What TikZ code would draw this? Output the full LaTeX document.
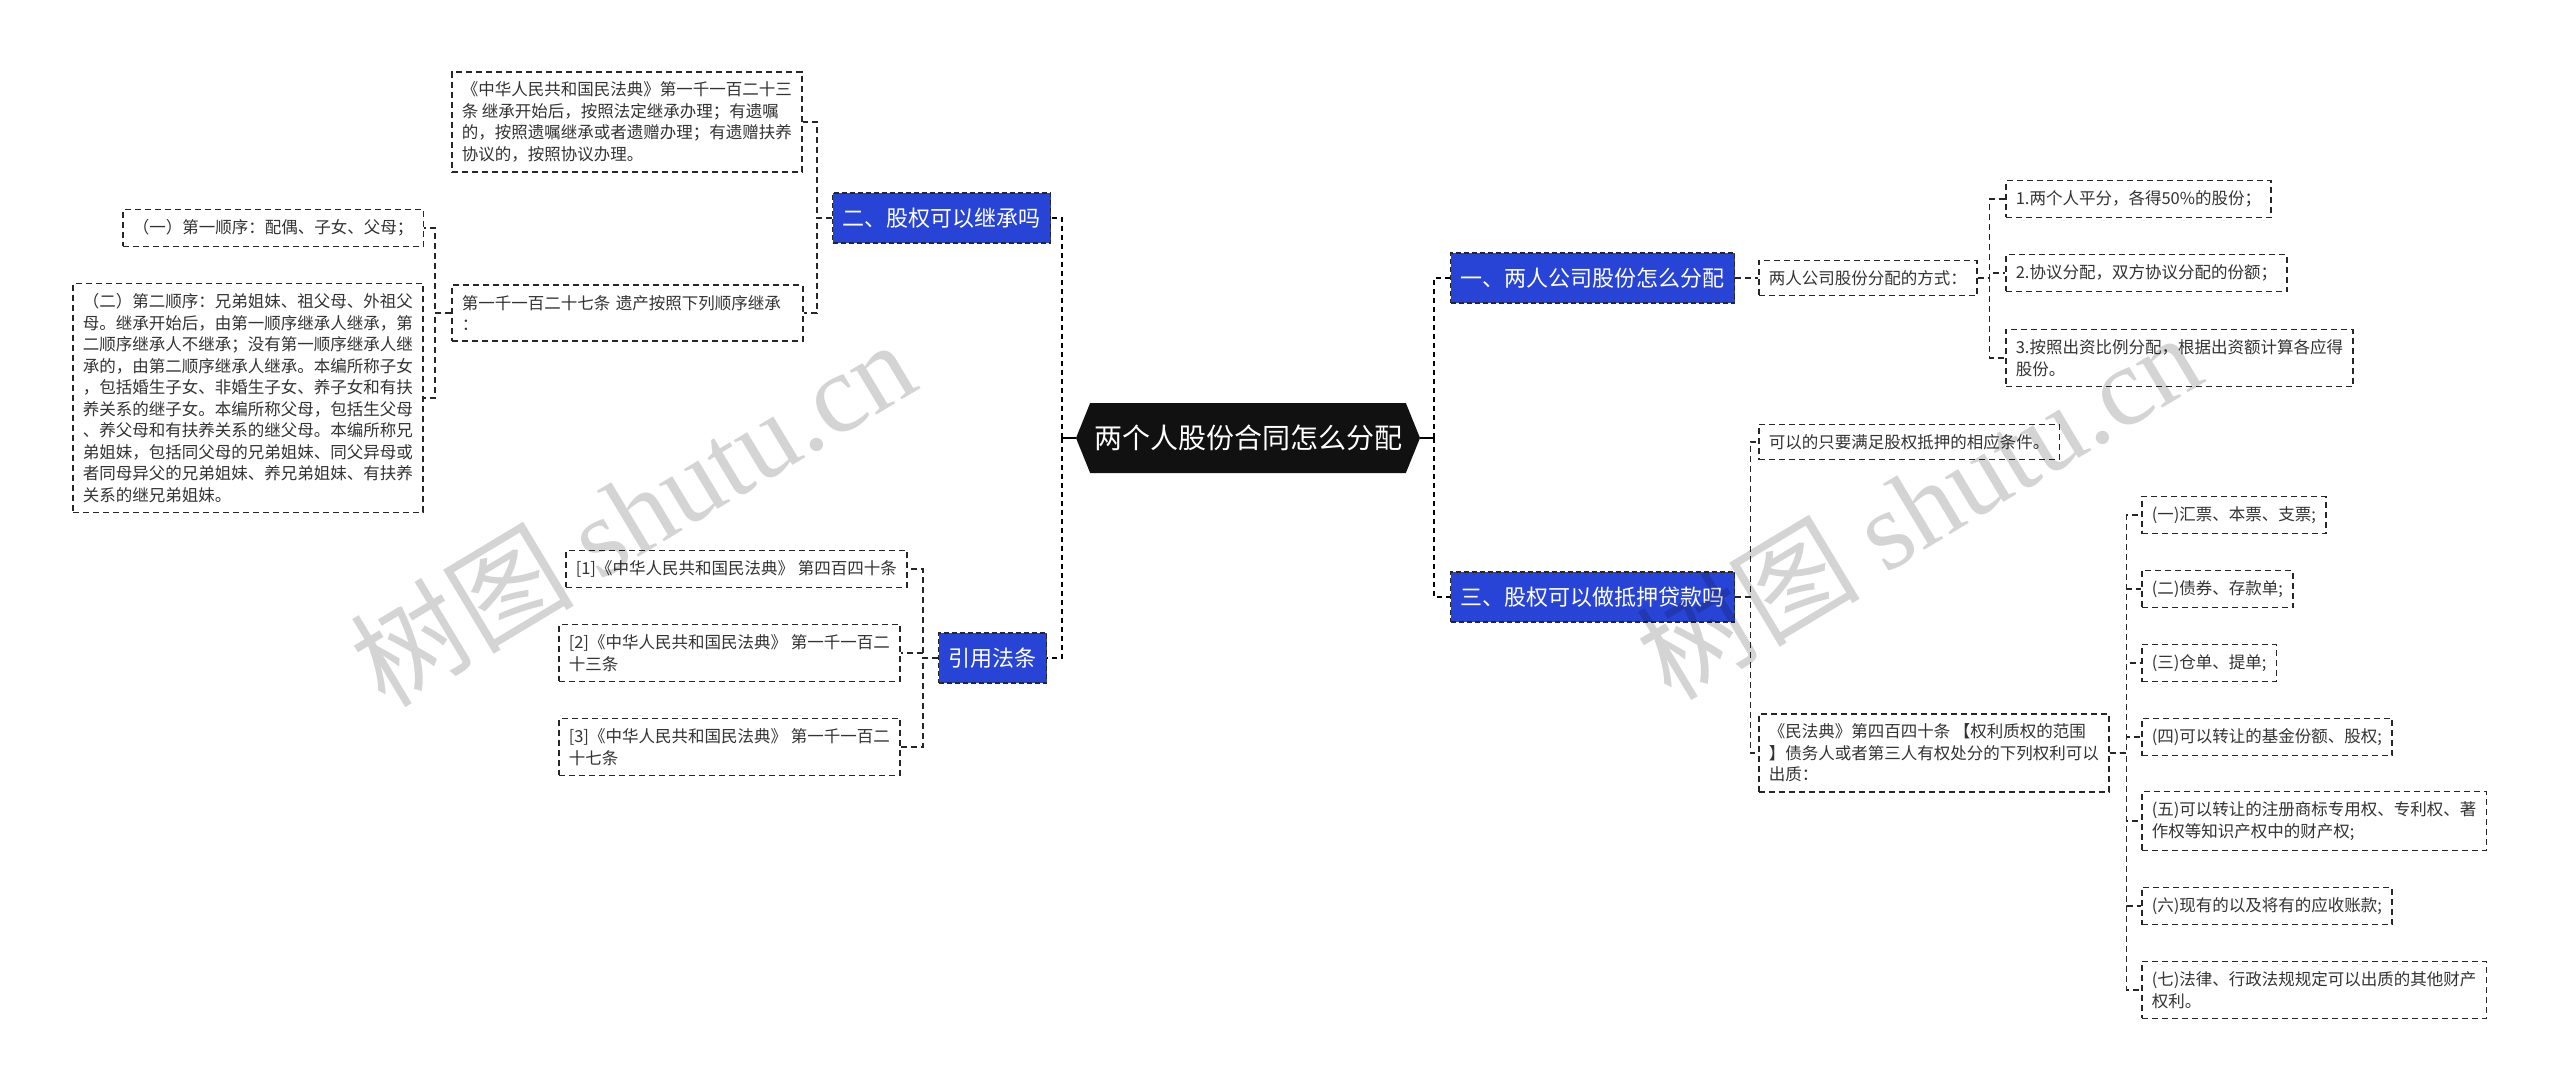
\documentclass[tikz,border=0pt]{standalone}
\usepackage{fontspec}
\setmainfont{Noto Sans CJK SC}
\newfontfamily\markfont{Liberation Serif}
\usetikzlibrary{
  shapes.symbols,
  positioning,
  calc
}
\definecolor{topicblue}{RGB}{40,68,214}
\definecolor{rootblack}{RGB}{17,17,17}
\definecolor{inktext}{RGB}{51,51,51}
\newcommand{\leaffont}{\fontsize{16.5}{21.5}\selectfont}
\newcommand{\topicfont}{\fontsize{22}{26}\selectfont}
\newcommand{\rootfont}{\fontsize{28}{34}\selectfont}
\tikzset{
  rootnode/.style={
    signal, signal to=west and east, signal pointer angle=136,
    fill=rootblack, text=white, font=\rootfont,
    minimum width=344pt, minimum height=70pt, inner sep=0pt
  },
  topic/.style={
    rectangle, draw=black!85, dash pattern=on 5pt off 3pt, line width=1.4pt,
    fill=topicblue, text=white, font=\topicfont,
    minimum height=50pt, inner xsep=10pt, anchor=west
  },
  leaf/.style={
    rectangle, draw=black!85, dash pattern=on 6pt off 4pt, line width=1.5pt,
    fill=white, text=inktext, font=\leaffont, align=left,
    inner xsep=10pt, inner ysep=10pt, anchor=west
  },
  stub/.style={draw=black, line width=2pt},
  trunk/.style={draw=black, line width=2.4pt, dash pattern=on 5pt off 4pt},
  link/.style={draw=black!85, line width=1.5pt, dash pattern=on 6pt off 4pt},
  watermark/.style={text=black, opacity=0.17, font=\fontsize{112}{112}\selectfont, rotate=31}
}

\begin{document}
\begin{tikzpicture}[x=1pt, y=-1pt]
\useasboundingbox (0,0) rectangle (2560,1091);

% Root
\node[rootnode] (root) at (1248,438) {两个人股份合同怎么分配};

% Left: inheritance
\node[topic] (inherit) at (832,218) {二、股权可以继承吗};
\node[leaf] (law1123) at (451,122)
  {《中华人民共和国民法典》第一千一百二十三\\条 继承开始后，按照法定继承办理；有遗嘱\\的，按照遗嘱继承或者遗赠办理；有遗赠扶养\\协议的，按照协议办理。};
\node[leaf, text width=331pt] (law1127) at (451,313)
  {第一千一百二十七条 遗产按照下列顺序继承\\：};
\node[leaf] (order1) at (122,228) {（一）第一顺序：配偶、子女、父母；};
\node[leaf] (order2) at (72,398)
  {（二）第二顺序：兄弟姐妹、祖父母、外祖父\\母。继承开始后，由第一顺序继承人继承，第\\二顺序继承人不继承；没有第一顺序继承人继\\承的，由第二顺序继承人继承。本编所称子女\\，包括婚生子女、非婚生子女、养子女和有扶\\养关系的继子女。本编所称父母，包括生父母\\、养父母和有扶养关系的继父母。本编所称兄\\弟姐妹，包括同父母的兄弟姐妹、同父异母或\\者同母异父的兄弟姐妹、养兄弟姐妹、有扶养\\关系的继兄弟姐妹。};

% Left: cited articles
\node[topic] (cite) at (938,658) {引用法条};
\node[leaf] (ref1) at (565,569) {[1]《中华人民共和国民法典》 第四百四十条};
\node[leaf] (ref2) at (558,653) {[2]《中华人民共和国民法典》 第一千一百二\\十三条};
\node[leaf] (ref3) at (558,747) {[3]《中华人民共和国民法典》 第一千一百二\\十七条};

% Right: how to split
\node[topic, minimum width=278pt] (split) at (1450,278) {一、两人公司股份怎么分配};
\node[leaf] (ways) at (1758,278) {两人公司股份分配的方式：};
\node[leaf] (way1) at (2005,199) {1.两个人平分，各得50\%的股份；};
\node[leaf] (way2) at (2005,273) {2.协议分配，双方协议分配的份额；};
\node[leaf] (way3) at (2005,358) {3.按照出资比例分配，根据出资额计算各应得\\股份。};

% Right: pledge
\node[topic, minimum width=278pt] (pledge) at (1450,597) {三、股权可以做抵押贷款吗};
\node[leaf] (cond) at (1758,442) {可以的只要满足股权抵押的相应条件。};
\node[leaf] (art440) at (1758,753)
  {《民法典》第四百四十条 【权利质权的范围\\】债务人或者第三人有权处分的下列权利可以\\出质：};
\node[leaf] (item1) at (2141,515) {(一)汇票、本票、支票;};
\node[leaf] (item2) at (2141,589) {(二)债券、存款单;};
\node[leaf] (item3) at (2141,663) {(三)仓单、提单;};
\node[leaf] (item4) at (2141,737) {(四)可以转让的基金份额、股权;};
\node[leaf] (item5) at (2141,821) {(五)可以转让的注册商标专用权、专利权、著\\作权等知识产权中的财产权;};
\node[leaf] (item6) at (2141,906) {(六)现有的以及将有的应收账款;};
\node[leaf] (item7) at (2141,990) {(七)法律、行政法规规定可以出质的其他财产\\权利。};

% Trunk
\draw[stub] (root.west) -- ++(-14,0) coordinate (lhub);
\draw[stub] (root.east) -- ++(14,0) coordinate (rhub);
\foreach \t in {inherit, cite} \draw[trunk] (lhub) |- (\t.east);
\foreach \t in {split, pledge} \draw[trunk] (rhub) |- (\t.west);

% Branch links
\foreach \c in {law1123, law1127} \draw[link] (inherit.west) -- ++(-15,0) |- (\c.east);
\foreach \c in {order1, order2} \draw[link] (law1127.west) -- ++(-16,0) |- (\c.east);
\foreach \c in {ref1, ref2, ref3} \draw[link] (cite.west) -- ++(-15,0) |- (\c.east);
\draw[link] (split.east) -- (ways.west);
\foreach \c in {way1, way2, way3} \draw[link] (ways.east) -- ++(12,0) |- (\c.west);
\foreach \c in {cond, art440} \draw[link] (pledge.east) -- ++(15,0) |- (\c.west);
\foreach \i in {1,...,7} \draw[link] (art440.east) -- ++(17,0) |- (item\i.west);

% Watermark
\node[watermark] (mark1) at (632,512) {树图 {\markfont shutu.cn}};
\node[watermark] (mark2) at (1918,505) {树图 {\markfont shutu.cn}};

\end{tikzpicture}
\end{document}
